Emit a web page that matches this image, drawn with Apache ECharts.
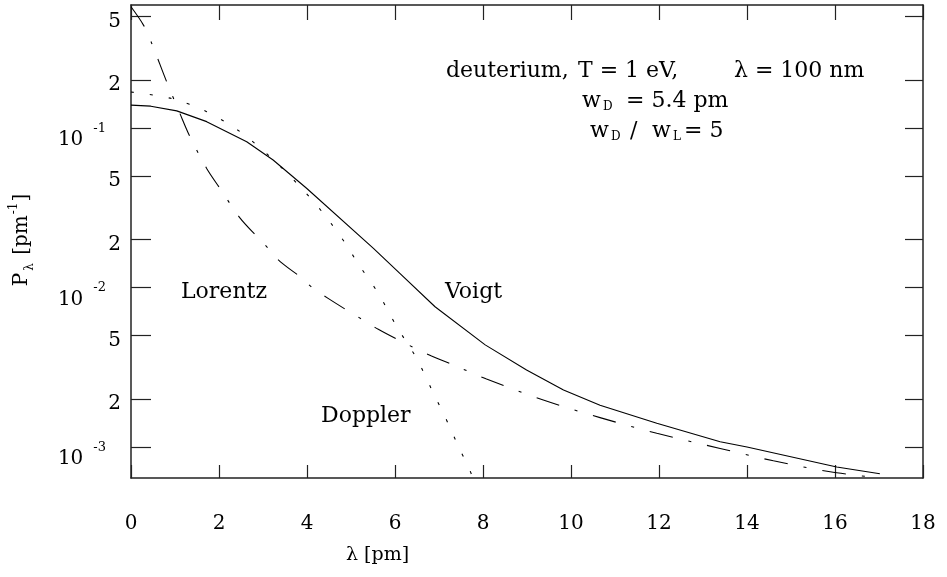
<!DOCTYPE html>
<html><head><meta charset="utf-8">
<script src="https://cdn.jsdelivr.net/npm/echarts@6/dist/echarts.min.js"></script>
<style>html,body{margin:0;padding:0;background:#fff}#c{width:947px;height:577px}</style>
</head><body><div id="c"></div>
<script>
// ---- data (x in pm, P in pm^-1) ----
const voigtX = [0, 0.45, 1.04, 1.72, 2.63, 3.23, 3.99, 5.51, 6.11, 6.91, 8.05, 8.99, 9.83, 10.66, 11.95, 13.39, 14.0, 16.04, 17.02];
const voigtY = [0.139, 0.137, 0.128, 0.1096, 0.082, 0.063, 0.0419, 0.0176, 0.01227, 0.00758, 0.00437, 0.00304, 0.00228, 0.00183, 0.00141, 0.00108, 0.0010, 0.00075, 0.00068];

const lorentzX = [0, 0.28, 0.47, 0.81, 1.11, 1.34, 1.72, 2.02, 2.48, 2.86, 3.12, 3.39, 3.84, 4.14, 4.48, 4.90, 5.28, 5.62, 6.08, 6.83, 7.33, 8.08, 9.37, 10.66, 11.95, 13.39, 14.6, 15.89, 16.8];
const lorentzY = [0.575, 0.443, 0.34, 0.195, 0.1236, 0.0882, 0.0558, 0.0419, 0.0272, 0.0209, 0.0176, 0.01452, 0.0117, 0.00988, 0.00855, 0.00723, 0.00625, 0.00547, 0.00469, 0.00372, 0.00327, 0.00267, 0.00197, 0.00153, 0.00122, 0.00098, 0.00082, 0.0007, 0.00065];

const dopplerX = [0, 0.92, 1.72, 2.48, 3.16, 3.77, 4.37, 4.90, 5.13, 5.62, 6.04, 6.49, 6.91, 7.10, 7.48, 7.67, 7.75];
const dopplerY = [0.168, 0.153, 0.1265, 0.0948, 0.066, 0.045, 0.0292, 0.01846, 0.01452, 0.0092, 0.00568, 0.0036, 0.00207, 0.00163, 0.000957, 0.000751, 0.00066];

const xMin = 0, xMax = 18, xStep = 2;
const yMin = 0.00064, yMax = 0.59;
const yTickValues = [0.001, 0.002, 0.005, 0.01, 0.02, 0.05, 0.1, 0.2, 0.5];
const yTickMant   = ['10', '2', '5', '10', '2', '5', '10', '2', '5'];
const yTickExp    = ['-3', '', '', '-2', '', '', '-1', '', ''];

// ---- build ----
const L = Math.log10;
const pairs = (xs, ys) => xs.map((x, i) => [x, L(ys[i])]);
const yTickLogs = yTickValues.map(L);
function yLabel(v) {
  const i = yTickLogs.findIndex(t => Math.abs(t - v) < 1e-6);
  if (i < 0) return '';
  return yTickExp[i] ? '{t|' + yTickMant[i] + '}{e|' + yTickExp[i] + '}' : '{d|' + yTickMant[i] + '}';
}
const FONT = 'DejaVu Serif';
const INK = '#000';
const axisLine = { show: true, onZero: false, lineStyle: { color: '#222', width: 1.5 } };
const tickStyle = { color: '#222', width: 1.2 };

function txt(x, y, text, size, extra) {
  return Object.assign({
    type: 'text', x: x, y: y, silent: true,
    style: { text: text, font: size + 'px "' + FONT + '"', fill: INK,
             align: 'left', verticalAlign: 'middle', textAlign: 'left', textVerticalAlign: 'middle' }
  }, extra || {});
}

const option = {
  animation: false,
  backgroundColor: '#fff',
  grid: { left: 131, right: 24, top: 5, bottom: 99, containLabel: false },
  xAxis: [
    { type: 'value', min: xMin, max: xMax, interval: xStep, position: 'bottom',
      axisLine: axisLine, axisTick: { inside: true, length: 13, lineStyle: tickStyle },
      axisLabel: { margin: 36, fontFamily: FONT, fontSize: 20, color: INK },
      splitLine: { show: false } },
    { type: 'value', min: xMin, max: xMax, interval: xStep, position: 'top',
      axisLine: axisLine, axisTick: { inside: true, length: 15, lineStyle: tickStyle },
      axisLabel: { show: false }, splitLine: { show: false } }
  ],
  yAxis: [
    { type: 'value', min: L(yMin), max: L(yMax), position: 'left',
      axisLine: axisLine,
      axisTick: { inside: true, length: 20, customValues: yTickLogs, lineStyle: tickStyle },
      axisLabel: { customValues: yTickLogs, formatter: yLabel, margin: 10, color: INK,
        rich: {
          d: { fontFamily: FONT, fontSize: 20, lineHeight: 20, padding: [10, 0, 0, 0], color: INK },
          t: { fontFamily: FONT, fontSize: 20, lineHeight: 20, padding: [24, 0, 0, 0], color: INK },
          e: { fontFamily: FONT, fontSize: 13, lineHeight: 14, padding: [4, 15, 0, 10], verticalAlign: 'top', color: INK }
        } },
      splitLine: { show: false } },
    { type: 'value', min: L(yMin), max: L(yMax), position: 'right',
      axisLine: axisLine,
      axisTick: { inside: true, length: 18, customValues: yTickLogs, lineStyle: tickStyle },
      axisLabel: { show: false }, splitLine: { show: false } }
  ],
  series: [
    { name: 'Voigt', type: 'line', data: pairs(voigtX, voigtY), showSymbol: false, smooth: false,
      lineStyle: { color: INK, width: 1.1 } },
    { name: 'Lorentz', type: 'line', data: pairs(lorentzX, lorentzY), showSymbol: false, smooth: 0.3,
      lineStyle: { color: INK, width: 1.1, type: [24, 16, 3, 16] } },
    { name: 'Doppler', type: 'line', data: pairs(dopplerX, dopplerY), showSymbol: false, smooth: 0.3,
      lineStyle: { color: INK, width: 1.1, type: [3, 16] } }
  ],
  graphic: [
    txt(446, 71, 'deuterium,', 22),
    txt(578, 71, 'T = 1 eV,', 22),
    txt(734, 71, 'λ = 100 nm', 22),
    txt(582, 101, 'w', 22),
    txt(603, 107, 'D', 12),
    txt(626, 101, '= 5.4 pm', 22),
    txt(590, 131, 'w', 22),
    txt(611, 137, 'D', 12),
    txt(630, 131, '/', 22),
    txt(652, 131, 'w', 22),
    txt(673, 137, 'L', 12),
    txt(684, 131, '= 5', 22),
    txt(181, 292, 'Lorentz', 22),
    txt(445, 292, 'Voigt', 22),
    txt(321, 416, 'Doppler', 22),
    txt(346, 555, 'λ [pm]', 19),
    { type: 'text', x: 22, y: 240, rotation: Math.PI / 2, silent: true,
      style: { text: '{a|P}{s|λ}{a| [pm}{u|-1}{a|]}', fill: INK,
        align: 'center', verticalAlign: 'middle', textAlign: 'center', textVerticalAlign: 'middle',
        rich: {
          a: { fontFamily: FONT, fontSize: 20, lineHeight: 28, verticalAlign: 'middle' },
          s: { fontFamily: FONT, fontSize: 12, lineHeight: 12, verticalAlign: 'bottom', padding: [0, 2, 0, 2] },
          u: { fontFamily: FONT, fontSize: 12, lineHeight: 12, verticalAlign: 'top', padding: [0, 1, 0, 1] }
        } } }
  ]
};
const chart = echarts.init(document.getElementById('c'), null, { renderer: 'canvas' });
chart.setOption(option);
</script>
</body></html>
